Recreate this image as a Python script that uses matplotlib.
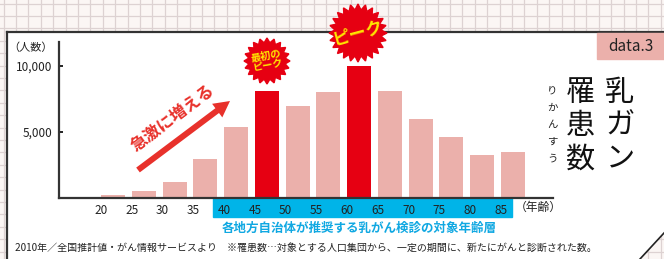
import numpy as np
import matplotlib.pyplot as plt
from matplotlib.patches import Polygon, Rectangle, FancyArrow
import matplotlib.transforms as mtransforms

plt.rcParams['font.family'] = ['Noto Sans CJK JP', 'DejaVu Sans']

# 年齢階級別 乳がん罹患数 (2010年)
ages = [20, 25, 30, 35, 40, 45, 50, 55, 60, 65, 70, 75, 80, 85]
counts = [200, 480, 1160, 2900, 5400, 8130, 6970, 8050, 10000, 8130, 5980, 4620, 3260, 3480]
peaks = [45, 60]
screen_ages = [40, 85]   # 自治体が推奨する検診の対象
yticks = [5000, 10000]

PINK = "#ebb0ab"
RED = "#e60012"
CYAN = "#00b4e8"
W, H = 664, 259

fig = plt.figure(figsize=(W / 100, H / 100), dpi=100)

# 背景(方眼)とパネル
bg = fig.add_axes([0, 0, 1, 1], zorder=0)
bg.set_xlim(0, W)
bg.set_ylim(H, 0)
bg.axis("off")
bg.add_patch(Rectangle((0, 0), W, H, color="#fbf6f4", zorder=0))
for g in np.arange(3.5, W, 12.4):
    bg.axvline(g, color="#ddd2d2", lw=0.9, zorder=0.5)
for g in np.arange(3.5, H, 12.4):
    bg.axhline(g, color="#ddd2d2", lw=0.9, zorder=0.5)
panel = [(7, 32), (W, 32), (W, 233), (640, H), (7, H)]
bg.add_patch(Polygon(panel, closed=True, facecolor="white", edgecolor="none", zorder=1))
bg.plot([7, W], [32, 32], color="#333333", lw=1.6, zorder=2)
bg.plot([7, 7], [32, H], color="#333333", lw=1.6, zorder=2)
bg.plot([W, 640], [233, H], color="#222222", lw=1.2, zorder=2)

# グラフ本体
ax = fig.add_axes([59 / W, 61.3 / H, 494 / W, 155.7 / H], zorder=1)
ax.patch.set_alpha(0)
x = np.arange(len(ages))
colors = [RED if a in peaks else PINK for a in ages]
ax.bar(x, counts, width=0.78, align="edge", color=colors)
ax.set_xlim(-1.365, 14.69)
ax.set_ylim(0, 11820)
for s in ["top", "right"]:
    ax.spines[s].set_visible(False)
ax.spines["left"].set_linewidth(1.6)
ax.spines["bottom"].set_linewidth(1.6)
ax.spines["left"].set_color("#333333")
ax.spines["bottom"].set_color("#333333")
ax.set_xticks(x)
ax.set_xticklabels([str(a) for a in ages])
ax.set_yticks(yticks)
ax.set_yticklabels(["{:,}".format(v) for v in yticks])
ax.tick_params(axis="x", length=0, pad=4.5, labelsize=8.5, colors="#222222")
ax.tick_params(axis="y", direction="in", length=3, width=1.4, pad=4.5,
               labelsize=8.5, colors="#222222")
ax.text(-0.012, 0.961, "（人数）", transform=ax.transAxes, ha="right", va="center",
        fontsize=8, color="#222222")

# 対象年齢の帯
trans = mtransforms.blended_transform_factory(ax.transData, ax.transAxes)
i0, i1 = ages.index(screen_ages[0]), ages.index(screen_ages[1])
ax.add_patch(Rectangle((i0 - 0.36, -0.122), (i1 - i0) + 0.72, 0.122, transform=trans,
                       color=CYAN, clip_on=False, zorder=0))
ax.text(len(ages) + 0.2, -0.065, "（年齢）", transform=trans, ha="center", va="center",
        fontsize=8.5, color="#222222")
ax.text((i0 + i1) / 2 - 0.1, -0.195, "各地方自治体が推奨する乳がん検診の対象年齢層",
        transform=trans, ha="center", va="center", fontsize=9.0, weight="bold", color="#10a8e2")

# 前景の装飾
fg = fig.add_axes([0, 0, 1, 1], zorder=3)
fg.set_xlim(0, W)
fg.set_ylim(H, 0)
fg.axis("off")
fg.patch.set_alpha(0)


def burst(cx, cy, r, n=22, ratio=0.8):
    ang = np.linspace(0, 2 * np.pi, 2 * n, endpoint=False)
    rad = np.where(np.arange(2 * n) % 2 == 0, r, r * ratio)
    pts = np.column_stack([cx + rad * np.cos(ang), cy + rad * np.sin(ang)])
    fg.add_patch(Polygon(pts, closed=True, color=RED))


burst(267, 61, 23, n=20)
fg.text(267, 61, "最初の\nピーク", ha="center", va="center", fontsize=7.4, weight="bold",
        color="#ffe600", rotation=10, linespacing=1.0)
burst(358, 33, 29, n=24)
fg.text(358, 33, "ピーク", ha="center", va="center", fontsize=12.5, weight="bold",
        color="#ffe600", rotation=15)

fg.add_patch(FancyArrow(138, 170, 92, -69, width=6, head_width=17, head_length=16,
                        length_includes_head=True, color="#e8312b", lw=0))
fg.text(173, 118, "急激に増える", ha="center", va="center", fontsize=12, weight="bold",
        color="#e8312b", rotation=37)

# タイトル(縦書き)
fg.add_patch(Rectangle((597, 33), W - 597, 26, color=PINK))
fg.text(631, 46.5, "data.3", ha="center", va="center", fontsize=11, color="#222222")
for k, ch in enumerate("乳ガン"):
    fg.text(620, 93 + k * 32.5, ch, ha="center", va="center", fontsize=21, color="#111111")
for k, ch in enumerate("罹患数"):
    fg.text(580, 93 + k * 33.5, ch, ha="center", va="center", fontsize=21, color="#111111")
for k, ch in enumerate("りかんすう"):
    fg.text(552, 91 + k * 16.8, ch, ha="center", va="center", fontsize=7.5, color="#222222")

fg.text(15, 248, "2010年／全国推計値・がん情報サービスより　※罹患数…対象とする人口集団から、一定の期間に、新たにがんと診断された数。",
        ha="left", va="center", fontsize=7.2, color="#222222")

fig.savefig("out.png", dpi=100)
